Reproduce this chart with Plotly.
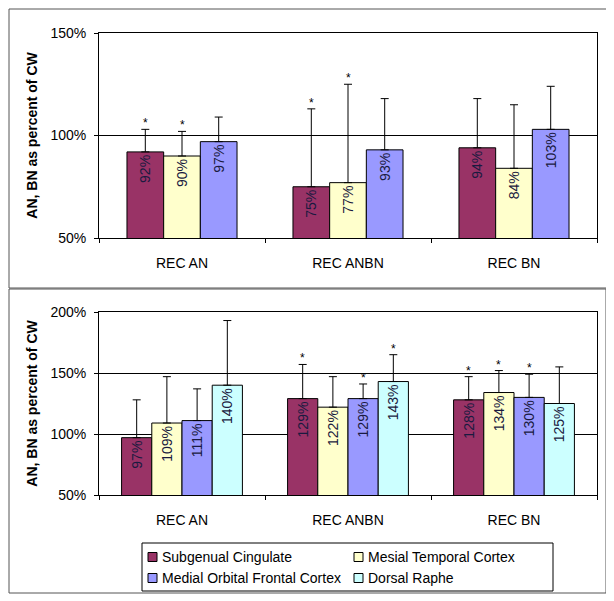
import plotly.graph_objects as go

# data
categories = ['REC AN', 'REC ANBN', 'REC BN']
regions = ['Subgenual Cingulate', 'Mesial Temporal Cortex',
           'Medial Orbital Frontal Cortex', 'Dorsal Raphe']
colors = ['#993366', '#FFFFCC', '#9999FF', '#CCFFFF']

# top panel (3 regions)
top_sc = [92, 75, 94]
top_mtc = [90, 77, 84]
top_mofc = [97, 93, 103]
top_sc_err = [11, 38, 24]
top_mtc_err = [12, 48, 31]
top_mofc_err = [12, 25, 21]
top_sc_star = [True, True, False]
top_mtc_star = [True, True, False]
top_mofc_star = [False, False, False]

# bottom panel (4 regions)
bot_sc = [97, 129, 128]
bot_mtc = [109, 122, 134]
bot_mofc = [111, 129, 130]
bot_dr = [140, 143, 125]
bot_sc_err = [31, 28, 19]
bot_mtc_err = [38, 25, 18]
bot_mofc_err = [26, 12, 19]
bot_dr_err = [53, 22, 30]
bot_sc_star = [False, True, True]
bot_mtc_star = [False, False, True]
bot_mofc_star = [False, True, True]
bot_dr_star = [False, True, False]

# page body has an 8px margin, so the figure is a bit smaller than the window
PAD = 8
W, H = 614 - PAD, 601 - PAD
FONT = 'Arial, Liberation Sans, sans-serif'
FS = 14


def fx(px):
    return (px - PAD) / W


def fy(px):
    return 1 - (px - PAD) / H


px_x0, px_x1 = 99, 597
cat_px = (px_x1 - px_x0) / len(categories)

fig = go.Figure()


def add_panel(vals, errs, stars, bar_w, xa, ya):
    n = len(vals)
    for j, (v, e, s) in enumerate(zip(vals, errs, stars)):
        off = (j - n / 2) * bar_w
        fig.add_trace(go.Bar(
            x=categories, y=v, name=regions[j], xaxis=xa, yaxis=ya,
            width=bar_w, offset=off,
            marker=dict(color=colors[j], line=dict(color='black', width=1)),
            text=[f'{t}%' for t in v], textposition='inside',
            insidetextanchor='end', textangle=-90,
            textfont=dict(family=FONT, size=FS, color='#1a1a40'),
            error_y=dict(type='data', symmetric=False, array=e,
                         arrayminus=[0] * len(e), color='black',
                         thickness=1, width=4),
            showlegend=False,
        ))
        for c, vv, ee, ss in zip(categories, v, e, s):
            if ss:
                fig.add_annotation(
                    x=c, y=vv + ee, xref=xa, yref=ya, text='*',
                    showarrow=False, yanchor='bottom', yshift=-3,
                    xshift=(off + bar_w / 2) * cat_px,
                    font=dict(family=FONT, size=12, color='black'))


add_panel([top_sc, top_mtc, top_mofc],
          [top_sc_err, top_mtc_err, top_mofc_err],
          [top_sc_star, top_mtc_star, top_mofc_star],
          0.221, 'x', 'y')
add_panel([bot_sc, bot_mtc, bot_mofc, bot_dr],
          [bot_sc_err, bot_mtc_err, bot_mofc_err, bot_dr_err],
          [bot_sc_star, bot_mtc_star, bot_mofc_star, bot_dr_star],
          0.182, 'x2', 'y2')

xcommon = dict(type='category', domain=[fx(px_x0), fx(px_x1)],
               showline=True, linecolor='black', mirror=True,
               ticks='outside', tickson='boundaries', ticklen=4,
               tickcolor='black', ticklabelstandoff=12,
               tickfont=dict(family=FONT, size=FS, color='black'))
ycommon = dict(showline=True, linecolor='black', mirror=True,
               ticks='outside', ticklen=4, tickcolor='black',
               showgrid=True, gridcolor='black', gridwidth=1,
               ticksuffix='%', zeroline=False, dtick=50,
               ticklabelstandoff=5,
               tickfont=dict(family=FONT, size=FS, color='black'),
               title=dict(text='<b>AN, BN as percent of CW</b>', standoff=9,
                          font=dict(family=FONT, size=FS, color='black')))

shapes = [
    dict(type='rect', xref='paper', yref='paper',
         x0=fx(9), x1=fx(607), y0=fy(288), y1=fy(9),
         line=dict(color='#555555', width=1)),
    dict(type='rect', xref='paper', yref='paper',
         x0=fx(9), x1=fx(606), y0=fy(593), y1=fy(289),
         line=dict(color='#555555', width=1)),
    # legend box
    dict(type='rect', xref='paper', yref='paper',
         x0=fx(142), x1=fx(553), y0=fy(591), y1=fy(543),
         line=dict(color='black', width=1), fillcolor='white'),
]

# legend drawn by hand: 2 x 2 grid like the Excel original
leg_cols = [148, 354]
leg_rows = [557, 578]
for i, (name, col) in enumerate(zip(regions, colors)):
    lx = leg_cols[i % 2]
    ly = leg_rows[i // 2]
    shapes.append(dict(type='rect', xref='paper', yref='paper',
                       x0=fx(lx), x1=fx(lx + 9), y0=fy(ly + 4.5), y1=fy(ly - 4.5),
                       line=dict(color='black', width=1), fillcolor=col))
    fig.add_annotation(x=fx(lx + 12), y=fy(ly), xref='paper', yref='paper',
                       text=name, showarrow=False, xanchor='left', yanchor='middle',
                       font=dict(family=FONT, size=FS, color='black'))

fig.update_layout(
    width=W, height=H,
    margin=dict(l=0, r=0, t=0, b=0, autoexpand=False),
    paper_bgcolor='white', plot_bgcolor='white',
    barmode='group',
    xaxis=dict(xcommon, anchor='y'),
    yaxis=dict(ycommon, domain=[fy(238), fy(33)], range=[50, 150], anchor='x'),
    xaxis2=dict(xcommon, anchor='y2'),
    yaxis2=dict(ycommon, domain=[fy(495), fy(312)], range=[50, 200], anchor='x2'),
    shapes=shapes,
)

fig.write_html('out.html')
